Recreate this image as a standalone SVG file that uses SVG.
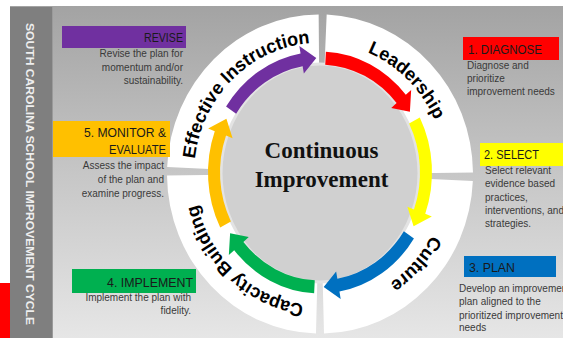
<svg xmlns="http://www.w3.org/2000/svg" width="563" height="338" viewBox="0 0 563 338">
<style>
.title{font-family:"Liberation Sans",Arial,sans-serif;font-size:13px;fill:#1a1a1a}
.desc{font-family:"Liberation Sans",Arial,sans-serif;font-size:10px;fill:#3a3a3a}
.r{text-anchor:end}
.ring{fill:#ffffff}
.lbl{font-family:"Liberation Sans",Arial,sans-serif;font-size:18px;font-weight:bold;fill:#000000}
.center{font-family:"Liberation Serif","Times New Roman",serif;font-size:23px;font-weight:bold;fill:#111111;text-anchor:middle}
</style>
<defs>
<linearGradient id="bg" x1="0" y1="0" x2="0" y2="1">
<stop offset="0" stop-color="#a3a3a3"/>
<stop offset="0.5" stop-color="#c6c6c6"/>
<stop offset="1" stop-color="#e6e6e6"/>
</linearGradient>
<path id="arrow" d="M112,0 A112,112 0 0 1 76.38,81.91 L81.16,87.03 L60.80,86.83 L63.43,68.02 L68.20,73.14 A100,100 0 0 0 100,0 Z"/>
<path id="pEff" d="M-115.1,51.2 A126,126 0 0 1 55.2,-113.2"/>
<path id="pLead" d="M-55.2,-113.2 A126,126 0 0 1 115.1,51.2"/>
<path id="pCul" d="M111.2,-59.2 A126,126 0 0 1 -47.2,116.8"/>
<path id="pCap" d="M59.2,111.2 A126,126 0 0 1 -116.8,-47.2"/>
</defs>
<rect x="0" y="0" width="563" height="338" fill="#ffffff"/>
<rect x="10" y="6" width="553" height="332" fill="url(#bg)"/>
<rect x="0" y="283" width="10" height="55" fill="#ff0000"/>
<g id="sidebar">
<rect x="10" y="7" width="42" height="331" fill="#7f7f7f"/>
<line x1="52.5" y1="7" x2="52.5" y2="338" stroke="#9a9a9a" stroke-width="1"/>
<text transform="translate(26,23) rotate(90)" font-family="Liberation Sans,Arial,sans-serif" font-size="10.5" font-weight="bold" fill="#eeeeee" textLength="302" lengthAdjust="spacingAndGlyphs">SOUTH CAROLINA SCHOOL IMPROVEMENT CYCLE</text>
</g>

<g id="ring" transform="translate(320,174) scale(1,1.043)">
<path class="ring" d="M6.67,-152.85 A153,153 0 0 1 152.99,-1.34 L95,-0.83 A95,95 0 0 0 4.14,-94.91 Z"/>
<path class="ring" d="M152.85,6.67 A153,153 0 0 1 4.01,152.95 L2.49,94.97 A95,95 0 0 0 94.91,4.14 Z"/>
<path class="ring" d="M-4.01,152.95 A153,153 0 0 1 -152.99,1.34 L-95,0.83 A95,95 0 0 0 -2.49,94.97 Z"/>
<path class="ring" d="M-152.85,-6.67 A153,153 0 0 1 -1.34,-152.99 L-0.83,-95 A95,95 0 0 0 -94.91,-4.14 Z"/>
</g>
<g id="inner">
<ellipse cx="320" cy="173" rx="99" ry="109" fill="#d0d0d0" stroke="#e3e3e3" stroke-width="3"/>
</g>

<g id="connectors" transform="translate(320,172.5) scale(1,1.08)">
<use href="#arrow" transform="rotate(-87)" fill="#ff0000"/>
<use href="#arrow" transform="rotate(-27)" fill="#ffff00"/>
<use href="#arrow" transform="rotate(33)" fill="#0070c0"/>
<use href="#arrow" transform="rotate(93)" fill="#00b050"/>
<use href="#arrow" transform="rotate(153)" fill="#ffc000"/>
<use href="#arrow" transform="rotate(213)" fill="#7030a0"/>
</g>

<g id="ring-labels" transform="translate(320,174) scale(1,1.043)">
<text class="lbl" text-anchor="middle"><textPath href="#pEff" startOffset="50%">Effective Instruction</textPath></text>
<text class="lbl" text-anchor="middle"><textPath href="#pLead" startOffset="50%">Leadership</textPath></text>
<text class="lbl" text-anchor="middle"><textPath href="#pCul" startOffset="50%">Culture</textPath></text>
<text class="lbl" text-anchor="middle"><textPath href="#pCap" startOffset="50%">Capacity Building</textPath></text>
</g>

<g id="center-node">
<text class="center" x="321.5" y="158">Continuous</text>
<text class="center" x="321.5" y="187">Improvement</text>
</g>

<g id="revise">
<rect x="62" y="26" width="124" height="22" fill="#7030a0"/>
<text class="title r" x="183" y="42" textLength="39" lengthAdjust="spacingAndGlyphs">REVISE</text>
<text class="desc r" x="183" y="57">Revise the plan for</text>
<text class="desc r" x="183" y="70.5">momentum  and/or</text>
<text class="desc r" x="183" y="84">sustainability.</text>
</g>
<g id="monitor">
<rect x="53" y="121" width="117" height="36" fill="#ffc000"/>
<text class="title r" x="166" y="137" textLength="82" lengthAdjust="spacingAndGlyphs">5. MONITOR &amp;</text>
<text class="title r" x="166" y="154" textLength="57" lengthAdjust="spacingAndGlyphs">EVALUATE</text>
<text class="desc r" x="164" y="169">Assess the impact</text>
<text class="desc r" x="164" y="183">of the plan and</text>
<text class="desc r" x="164" y="197">examine progress.</text>
</g>
<g id="implement">
<rect x="72" y="269" width="124" height="24" fill="#00b050"/>
<text class="title r" x="193" y="287" textLength="86" lengthAdjust="spacingAndGlyphs">4. IMPLEMENT</text>
<text class="desc r" x="191" y="301">Implement the plan with</text>
<text class="desc r" x="191" y="314">fidelity.</text>
</g>
<g id="diagnose">
<rect x="463" y="37" width="96" height="23" fill="#ff0000"/>
<text class="title" x="468" y="54" textLength="74" lengthAdjust="spacingAndGlyphs">1. DIAGNOSE</text>
<text class="desc" x="467" y="68.5">Diagnose and</text>
<text class="desc" x="467" y="82">prioritize</text>
<text class="desc" x="467" y="95">improvement needs</text>
</g>
<g id="select">
<rect x="480" y="143" width="83" height="23" fill="#ffff00"/>
<text class="title" x="484" y="159" textLength="55" lengthAdjust="spacingAndGlyphs">2. SELECT</text>
<text class="desc" x="485" y="173.5">Select relevant</text>
<text class="desc" x="485" y="187">evidence based</text>
<text class="desc" x="485" y="200.5">practices,</text>
<text class="desc" x="485" y="214">interventions, and</text>
<text class="desc" x="485" y="227">strategies.</text>
</g>
<g id="plan">
<rect x="464" y="256" width="92" height="21" fill="#0070c0"/>
<text class="title" x="469" y="272" textLength="46" lengthAdjust="spacingAndGlyphs">3. PLAN</text>
<text class="desc" x="459" y="292">Develop an improvement</text>
<text class="desc" x="459" y="305">plan aligned to the</text>
<text class="desc" x="459" y="318.5">prioritized improvement</text>
<text class="desc" x="459" y="331">needs</text>
</g>
</svg>
